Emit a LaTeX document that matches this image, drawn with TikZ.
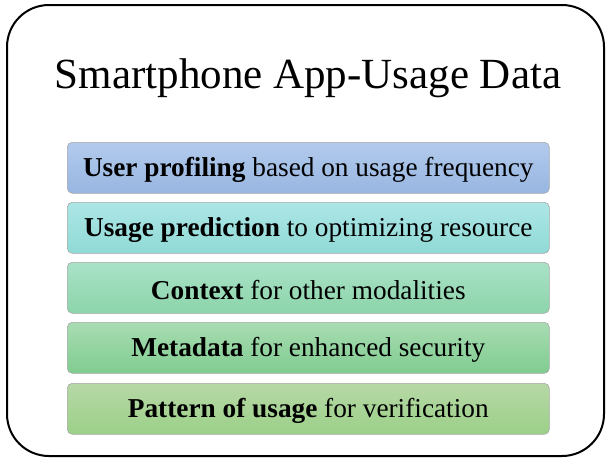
\documentclass[tikz,border=0pt]{standalone}
\usepackage{fontspec}
\setmainfont{Liberation Serif}
\begin{document}
\begin{tikzpicture}[x=1pt,y=-1pt,
  bar/.style={draw=black!35, line width=0.6pt, rounded corners=5pt, minimum width=482pt, minimum height=51pt, inner sep=0pt, anchor=north west, font=\fontsize{27.3}{30}\selectfont},
  lbl/.style={font=\fontsize{27.3}{30}\selectfont, inner sep=0pt},
]
\useasboundingbox (0,0) rectangle (608,461);
\draw[line width=2pt, rounded corners=42pt] (7,5) rectangle (604,456);
\node (title) at (308,78) {\fontsize{43}{48}\selectfont Smartphone App-Usage Data};
\node[bar, top color={rgb,255:red,178;green,202;blue,236}, bottom color={rgb,255:red,152;green,182;blue,226}] (b1) at (67,142) {};
\node[bar, top color={rgb,255:red,172;green,230;blue,230}, bottom color={rgb,255:red,144;green,218;blue,214}] (b2) at (67,202) {};
\node[bar, top color={rgb,255:red,170;green,226;blue,200}, bottom color={rgb,255:red,140;green,212;blue,170}] (b3) at (67,262) {};
\node[bar, top color={rgb,255:red,168;green,220;blue,178}, bottom color={rgb,255:red,128;green,204;blue,144}] (b4) at (67,322) {};
\node[bar, top color={rgb,255:red,182;green,216;blue,166}, bottom color={rgb,255:red,156;green,208;blue,136}] (b5) at (67,383) {};
\node[lbl, yshift=-2pt] (t1) at (b1) {\textbf{User profiling} based on usage frequency};
\node[lbl, yshift=-2pt] (t2) at (b2) {\textbf{Usage prediction} to optimizing resource};
\node[lbl, yshift=-2pt] (t3) at (b3) {\textbf{Context} for other modalities};
\node[lbl, yshift=-2pt] (t4) at (b4) {\textbf{Metadata} for enhanced security};
\node[lbl, yshift=-2pt] (t5) at (b5) {\textbf{Pattern of usage} for verification};
\end{tikzpicture}
\end{document}
